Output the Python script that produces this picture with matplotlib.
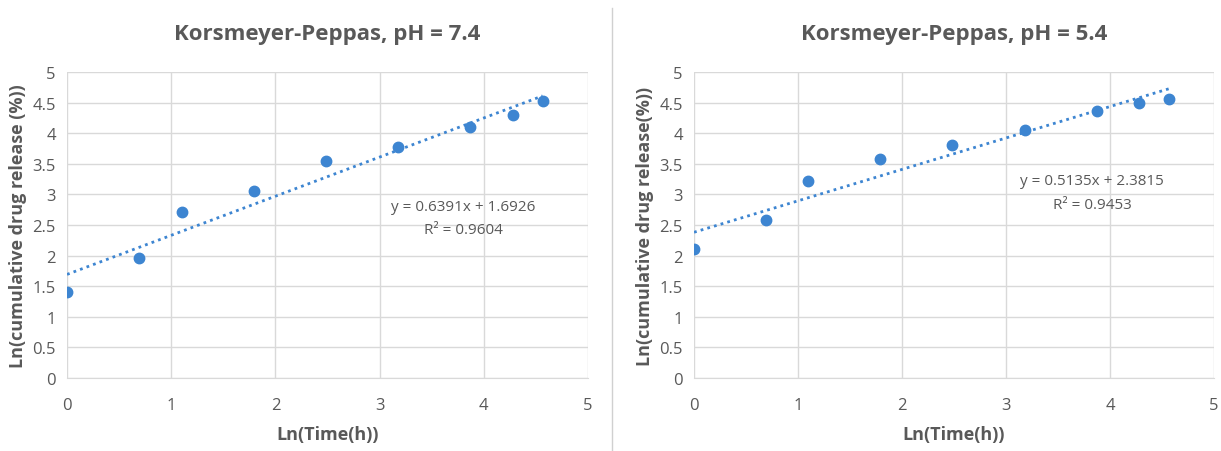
import numpy as np
import matplotlib
matplotlib.use("Agg")
import matplotlib.pyplot as plt
from matplotlib.lines import Line2D

plt.rcParams["font.family"] = ["Open Sans", "DejaVu Sans"]

# ln(time in hours): 1, 2, 3, 6, 12, 24, 48, 72, 96 h
ln_time = [0.0, 0.693, 1.099, 1.792, 2.485, 3.178, 3.871, 4.277, 4.564]

# ln(cumulative drug release %)
ln_rel_74 = [1.40, 1.96, 2.71, 3.05, 3.54, 3.77, 4.10, 4.29, 4.52]
ln_rel_54 = [2.10, 2.58, 3.22, 3.58, 3.81, 4.06, 4.36, 4.50, 4.56]

# fitted lines as printed on the chart
fit_74 = (0.6391, 1.6926, 0.9604)
fit_54 = (0.5135, 2.3815, 0.9453)

titles = ["Korsmeyer-Peppas, pH = 7.4", "Korsmeyer-Peppas, pH = 5.4"]
ylabels = ["Ln(cumulative drug release (%))", "Ln(cumulative drug release(%))"]
eq_pos = [(3.8, 2.81, 2.43), (3.83, 3.22, 2.83)]

BLUE = "#3d85d1"
GREY = "#595959"
GRID = "#d9d9d9"

fig = plt.figure(figsize=(12.21, 4.52), dpi=100)
fig.patch.set_facecolor("white")
fig.add_artist(Line2D([0.5012, 0.5012], [0.0, 0.98], transform=fig.transFigure,
                      color="#d0d0d0", lw=1))

boxes = [[0.0549, 0.1615, 0.4267, 0.677], [0.5684, 0.1615, 0.4259, 0.677]]
series = [(ln_rel_74, fit_74), (ln_rel_54, fit_54)]

for i, (box, (ys, fit)) in enumerate(zip(boxes, series)):
    ax = fig.add_axes(box)
    k, b, r2 = fit
    xs = np.array(ln_time)
    ax.plot([xs.min(), xs.max()], [k * xs.min() + b, k * xs.max() + b],
            ls=(0, (1, 1.5)), color=BLUE, lw=2, zorder=2)
    ax.plot(xs, ys, "o", color=BLUE, ms=7.5, zorder=3)

    ax.set_xlim(0, 5)
    ax.set_ylim(0, 5)
    ax.set_xticks(range(0, 6))
    ax.set_yticks(np.arange(0, 5.01, 0.5))
    ax.set_yticklabels([f"{v:g}" for v in np.arange(0, 5.01, 0.5)])
    ax.grid(True, color=GRID, lw=1)
    ax.set_axisbelow(True)
    for s in ["top", "right", "left"]:
        ax.spines[s].set_visible(False)
    ax.spines["bottom"].set_color(GRID)
    ax.tick_params(length=0, labelsize=12, colors=GREY, pad=8)
    ax.tick_params(axis="x", pad=14)

    ax.set_title(titles[i], fontsize=16, fontweight="bold", color=GREY, pad=24)
    ax.set_xlabel("Ln(Time(h))", fontsize=13, fontweight="bold", color=GREY, labelpad=8)
    ax.set_ylabel(ylabels[i], fontsize=13, fontweight="bold", color=GREY, labelpad=4)

    ex, ey1, ey2 = eq_pos[i]
    ax.text(ex, ey1, f"y = {k:.4f}x + {b:.4f}", ha="center", va="center",
            fontsize=11, color=GREY)
    ax.text(ex, ey2, f"R² = {r2:.4f}", ha="center", va="center",
            fontsize=11, color=GREY)

fig.savefig("out.png", dpi=100, facecolor="white")
